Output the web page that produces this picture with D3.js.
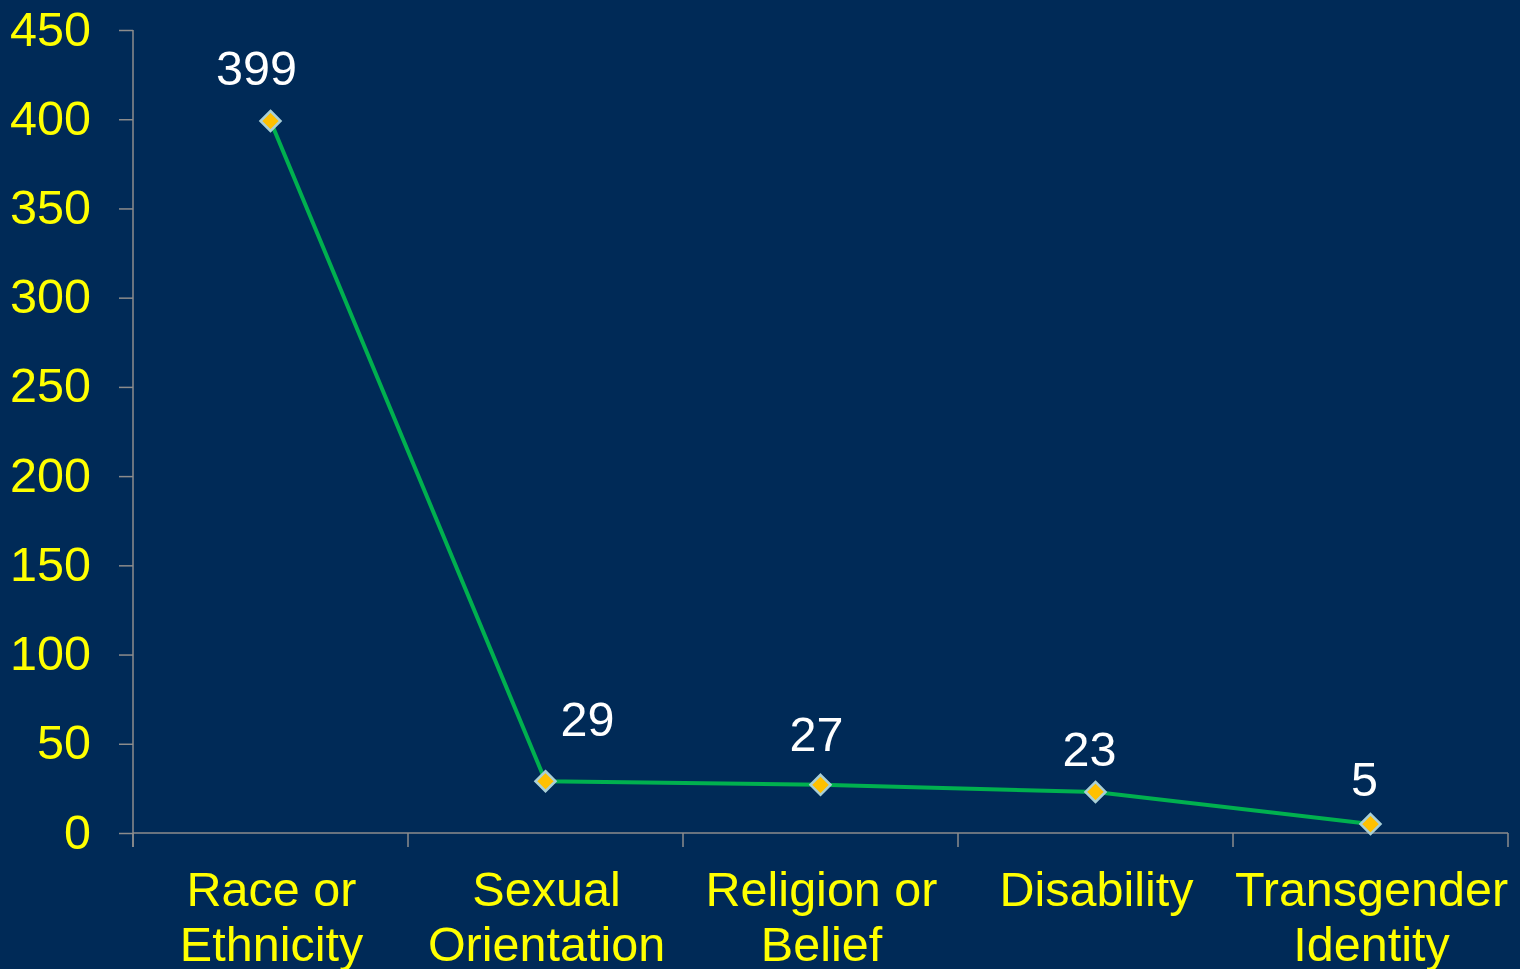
<!DOCTYPE html>
<html>
<head>
<meta charset="utf-8">
<script src="https://cdn.jsdelivr.net/npm/d3@7"></script>
<style>
  html, body { margin: 0; padding: 0; background: #002a57; }
  svg { display: block; }
</style>
</head>
<body>
<svg id="drawing_region"></svg>
<script>
// chart data
const categories = [["Race or", "Ethnicity"], ["Sexual", "Orientation"], ["Religion or", "Belief"], ["Disability"], ["Transgender", "Identity"]];
const values = [399, 29, 27, 23, 5];
const yTicks = [0, 50, 100, 150, 200, 250, 300, 350, 400, 450];
// label nudges (dx, dy above point) to follow the original layout
const labelNudge = [[-14, 36], [42, 45], [-4, 34], [-6, 26], [-6, 28]];

const config = {
    width: 1520,
    height: 969,
    margin: {top: 30, right: 12, bottom: 136, left: 133}
};

const svg = d3.select('#drawing_region')
    .attr('width', config.width)
    .attr('height', config.height);

svg.append('rect')
    .attr('width', config.width)
    .attr('height', config.height)
    .attr('fill', '#002a57');

const inner_width = config.width - config.margin.left - config.margin.right;
const inner_height = config.height - config.margin.top - config.margin.bottom;

const chart = svg.append('g')
    .attr('transform', `translate(${config.margin.left}, ${config.margin.top})`);

const keys = categories.map(c => c.join(' '));

const xscale = d3.scaleBand()
    .domain(keys)
    .range([0, inner_width]);

const yscale = d3.scaleLinear()
    .domain([0, 450])
    .range([inner_height, 0]);

const font = '"Liberation Sans", Arial, sans-serif';
const fsize = 48.5;

// y axis
const yaxis = d3.axisLeft(yscale)
    .tickValues(yTicks)
    .tickSize(14)
    .tickSizeOuter(0)
    .tickPadding(28);

const yaxis_group = chart.append('g').call(yaxis);
yaxis_group.select('.domain').attr('stroke', '#8c8c8c').attr('stroke-width', 1.5)
    .attr('d', `M0,0V${inner_height + 14}`);
yaxis_group.selectAll('.tick line').attr('stroke', '#8c8c8c').attr('stroke-width', 1.5);
yaxis_group.selectAll('.tick text')
    .attr('fill', '#ffff00')
    .attr('font-family', font)
    .attr('font-size', fsize)
    .attr('dy', '0.31em');

// x axis
const xaxis_group = chart.append('g')
    .attr('transform', `translate(0, ${inner_height})`);
xaxis_group.append('line')
    .attr('x1', 0).attr('x2', inner_width)
    .attr('stroke', '#8c8c8c').attr('stroke-width', 1.5);
xaxis_group.selectAll('.xtick')
    .data(keys.concat(['end']))
    .join('line')
    .attr('class', 'xtick')
    .attr('x1', (d, i) => i < keys.length ? xscale(d) : inner_width)
    .attr('x2', (d, i) => i < keys.length ? xscale(d) : inner_width)
    .attr('y1', 0).attr('y2', 14)
    .attr('stroke', '#8c8c8c').attr('stroke-width', 1.5);

const xlabels = xaxis_group.selectAll('.xlabel')
    .data(categories)
    .join('text')
    .attr('class', 'xlabel')
    .attr('text-anchor', 'middle')
    .attr('fill', '#ffff00')
    .attr('font-family', font)
    .attr('font-size', fsize)
    .attr('transform', (d, i) => `translate(${xscale(keys[i]) + xscale.bandwidth() / 2 + 1}, 0)`);
xlabels.selectAll('tspan')
    .data(d => d)
    .join('tspan')
    .attr('x', 0)
    .attr('y', (d, i) => 73 + i * 55)
    .text(d => d);

// line
const points = values.map((v, i) => ({x: xscale(keys[i]) + xscale.bandwidth() / 2, y: yscale(v), v: v}));

chart.append('path')
    .datum(points)
    .attr('fill', 'none')
    .attr('stroke', '#00b04f')
    .attr('stroke-width', 4)
    .attr('d', d3.line().x(d => d.x).y(d => d.y));

// diamond markers
chart.selectAll('.marker')
    .data(points)
    .join('path')
    .attr('class', 'marker')
    .attr('transform', d => `translate(${d.x}, ${d.y})`)
    .attr('d', 'M0,-10L10,0L0,10L-10,0Z')
    .attr('fill', '#ffc000')
    .attr('stroke', '#a9cfd6')
    .attr('stroke-width', 2.5);

// data labels
chart.selectAll('.dlabel')
    .data(points)
    .join('text')
    .attr('class', 'dlabel')
    .attr('text-anchor', 'middle')
    .attr('fill', '#ffffff')
    .attr('font-family', font)
    .attr('font-size', fsize)
    .attr('x', (d, i) => d.x + labelNudge[i][0])
    .attr('y', (d, i) => d.y - labelNudge[i][1])
    .text(d => d.v);
</script>
</body>
</html>
